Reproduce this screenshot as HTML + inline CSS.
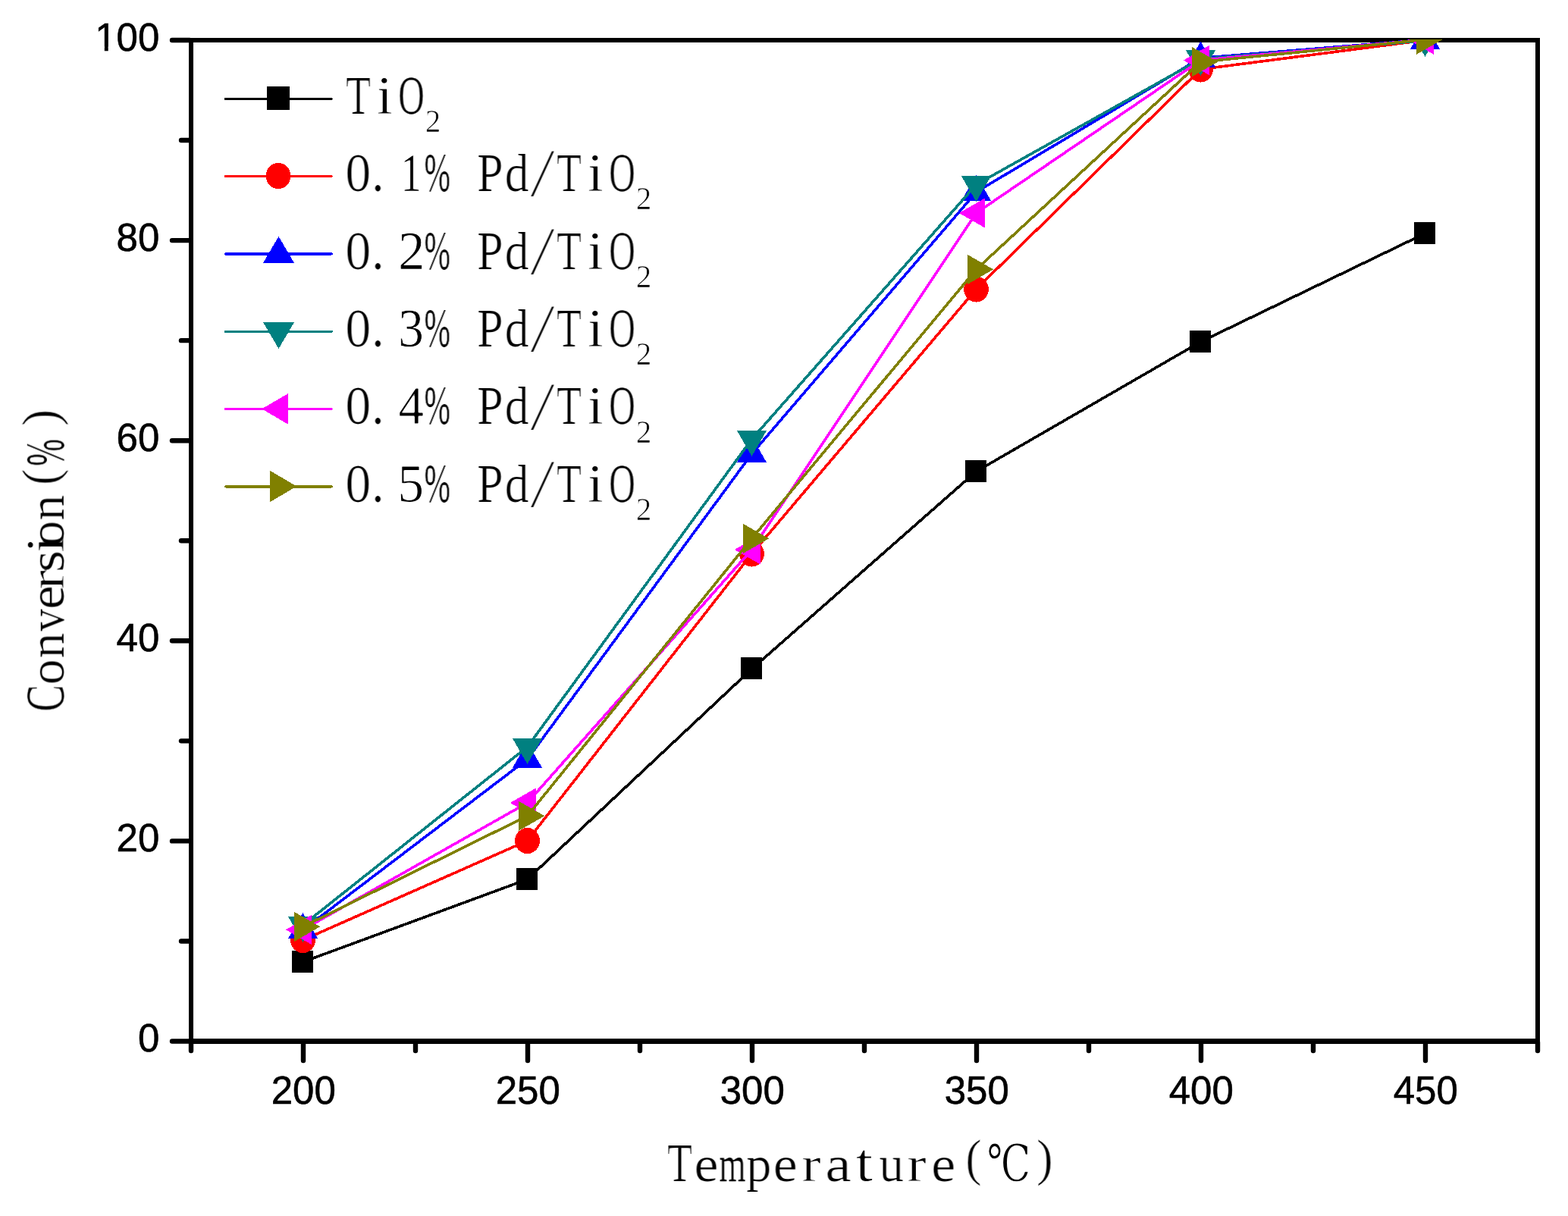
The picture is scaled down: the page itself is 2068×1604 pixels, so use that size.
<!DOCTYPE html>
<html lang="en">
<head>
<meta charset="utf-8">
<title>Conversion vs Temperature</title>
<style>
html,body{margin:0;padding:0;background:#fff;}
body{width:2068px;height:1604px;overflow:hidden;}
svg{display:block;}
.tick{font-family:"Liberation Sans",sans-serif;font-size:51px;fill:#000;stroke:#000;stroke-width:0.6px;}
.ser{font-family:"Liberation Serif","Noto Serif CJK SC",serif;fill:#000;}
</style>
</head>
<body>
<svg width="2068" height="1604" viewBox="0 0 2068 1604">
<rect x="0" y="0" width="2068" height="1604" fill="#fff"/>
<defs>
<filter id="thin" x="-5%" y="-30%" width="110%" height="160%" color-interpolation-filters="sRGB"><feMorphology operator="erode" radius="1 0" result="e"/><feComposite in="SourceGraphic" in2="e" operator="arithmetic" k1="0" k2="0.45" k3="0.55" k4="0"/></filter>
</defs>
<g id="axes" fill="#000" shape-rendering="crispEdges">
<rect x="249" y="50" width="1782" height="6"/>
<rect x="249" y="1370" width="1782" height="7"/>
<rect x="249" y="50" width="6" height="1327"/>
<rect x="2025" y="50" width="6" height="1327"/>
</g>
<g id="ticks" stroke="#000" stroke-width="6.4" stroke-linecap="round" fill="none">
<line x1="227" y1="1373.5" x2="250" y2="1373.5"/>
<line x1="239" y1="1241.45" x2="250" y2="1241.45"/>
<line x1="227" y1="1109.4" x2="250" y2="1109.4"/>
<line x1="239" y1="977.35" x2="250" y2="977.35"/>
<line x1="227" y1="845.3" x2="250" y2="845.3"/>
<line x1="239" y1="713.25" x2="250" y2="713.25"/>
<line x1="227" y1="581.2" x2="250" y2="581.2"/>
<line x1="239" y1="449.15" x2="250" y2="449.15"/>
<line x1="227" y1="317.1" x2="250" y2="317.1"/>
<line x1="239" y1="185.05" x2="250" y2="185.05"/>
<line x1="227" y1="53" x2="250" y2="53"/>
<line x1="252" y1="1375" x2="252" y2="1386"/>
<line x1="400" y1="1375" x2="400" y2="1399"/>
<line x1="548" y1="1375" x2="548" y2="1386"/>
<line x1="696" y1="1375" x2="696" y2="1399"/>
<line x1="844" y1="1375" x2="844" y2="1386"/>
<line x1="992" y1="1375" x2="992" y2="1399"/>
<line x1="1140" y1="1375" x2="1140" y2="1386"/>
<line x1="1288" y1="1375" x2="1288" y2="1399"/>
<line x1="1436" y1="1375" x2="1436" y2="1386"/>
<line x1="1584" y1="1375" x2="1584" y2="1399"/>
<line x1="1732" y1="1375" x2="1732" y2="1386"/>
<line x1="1880" y1="1375" x2="1880" y2="1399"/>
<line x1="2028" y1="1375" x2="2028" y2="1386"/>
</g>
<g id="ylabels" class="tick" text-anchor="end">
<text transform="translate(210.3 1387) scale(1 1.012)">0</text>
<text transform="translate(210.3 1122.9) scale(1 1.012)">20</text>
<text transform="translate(210.3 858.8) scale(1 1.012)">40</text>
<text transform="translate(210.3 594.7) scale(1 1.012)">60</text>
<text transform="translate(210.3 330.6) scale(1 1.012)">80</text>
<text transform="translate(210.3 66.5) scale(1 1.012)">100</text>
<rect x="127.5" y="61.6" width="10.3" height="7.2" fill="#fff" stroke="none"/><rect x="142.7" y="61.6" width="10.3" height="7.2" fill="#fff" stroke="none"/>
</g>
<g id="xlabels" class="tick" text-anchor="middle">
<text transform="translate(400.3 1456) scale(1 1.012)">200</text>
<text transform="translate(696.3 1456) scale(1 1.012)">250</text>
<text transform="translate(992.3 1456) scale(1 1.012)">300</text>
<text transform="translate(1288.3 1456) scale(1 1.012)">350</text>
<text transform="translate(1584.3 1456) scale(1 1.012)">400</text>
<text transform="translate(1880.3 1456) scale(1 1.012)">450</text>
</g>
<text id="xtitle" class="ser" filter="url(#thin)"><tspan x="879.92" y="1557.7" font-size="71" textLength="33.08" lengthAdjust="spacingAndGlyphs">T</tspan><tspan x="915.19" y="1557.7" font-size="66.5" textLength="32.5" lengthAdjust="spacingAndGlyphs">e</tspan><tspan x="948.24" y="1557.7" font-size="66.5" stroke="#000" stroke-width="0.5" textLength="35.47" lengthAdjust="spacingAndGlyphs">m</tspan><tspan x="983.92" y="1557.7" font-size="66.5" textLength="33.61" lengthAdjust="spacingAndGlyphs">p</tspan><tspan x="1019.44" y="1557.7" font-size="66.5" textLength="32.5" lengthAdjust="spacingAndGlyphs">e</tspan><tspan x="1057.39" y="1557.7" font-size="66.5" stroke="#fff" stroke-width="0.9" textLength="25.47" lengthAdjust="spacingAndGlyphs">r</tspan><tspan x="1088.26" y="1557.7" font-size="66.5" textLength="34.61" lengthAdjust="spacingAndGlyphs">a</tspan><tspan x="1128.5" y="1557.7" font-size="71" stroke="#fff" stroke-width="0.9" textLength="22.68" lengthAdjust="spacingAndGlyphs">t</tspan><tspan x="1159.13" y="1557.7" font-size="66.5" textLength="33" lengthAdjust="spacingAndGlyphs">u</tspan><tspan x="1196.39" y="1557.7" font-size="66.5" stroke="#fff" stroke-width="0.9" textLength="25.47" lengthAdjust="spacingAndGlyphs">r</tspan><tspan x="1227.94" y="1557.7" font-size="66.5" textLength="32.5" lengthAdjust="spacingAndGlyphs">e</tspan><tspan x="1273.18" y="1550.1" font-size="68" textLength="21.39" lengthAdjust="spacingAndGlyphs">(</tspan><tspan x="1301.6" y="1558" font-size="67.6" font-family="'DejaVu Serif','Noto Serif CJK SC',serif" stroke="#fff" stroke-width="1.4" textLength="57.91" lengthAdjust="spacingAndGlyphs">℃</tspan><tspan x="1366.88" y="1550.1" font-size="68" textLength="21.91" lengthAdjust="spacingAndGlyphs">)</tspan></text>
<text id="ytitle" class="ser" filter="url(#thin)" transform="translate(83.8 0) rotate(-90)"><tspan x="-938.69" y="0" font-size="71" stroke="#000" stroke-width="0.3" textLength="35.64" lengthAdjust="spacingAndGlyphs">C</tspan><tspan x="-903.61" y="0" font-size="66.5" textLength="34.21" lengthAdjust="spacingAndGlyphs">o</tspan><tspan x="-868.56" y="0" font-size="66.5" textLength="33.98" lengthAdjust="spacingAndGlyphs">n</tspan><tspan x="-833" y="0" font-size="66.5" textLength="30" lengthAdjust="spacingAndGlyphs">v</tspan><tspan x="-804.12" y="0" font-size="66.5" textLength="32.02" lengthAdjust="spacingAndGlyphs">e</tspan><tspan x="-777.46" y="0" font-size="66.5" stroke="#fff" stroke-width="0.9" textLength="25.47" lengthAdjust="spacingAndGlyphs">r</tspan><tspan x="-755.09" y="0" font-size="66.5" textLength="29.31" lengthAdjust="spacingAndGlyphs">s</tspan><tspan x="-728.93" y="0" font-size="71" stroke="#fff" stroke-width="0.9" textLength="21.7" lengthAdjust="spacingAndGlyphs">i</tspan><tspan x="-720.14" y="0" font-size="66.5" textLength="33.27" lengthAdjust="spacingAndGlyphs">o</tspan><tspan x="-686.86" y="0" font-size="66.5" textLength="34.09" lengthAdjust="spacingAndGlyphs">n</tspan><tspan x="-640.12" y="-7.6" font-size="68" textLength="21.39" lengthAdjust="spacingAndGlyphs">(</tspan><tspan x="-614.77" y="0" font-size="71" stroke="#000" stroke-width="1.0" textLength="35.84" lengthAdjust="spacingAndGlyphs">%</tspan><tspan x="-561.96" y="-7.6" font-size="68" textLength="22.3" lengthAdjust="spacingAndGlyphs">)</tspan></text>
<defs><clipPath id="plotclip"><rect x="252" y="52" width="1776" height="1322"/></clipPath></defs>
<g id="series" clip-path="url(#plotclip)" shape-rendering="crispEdges">
<g fill="#000000" stroke="none">
<polyline points="399.5,1268.9 695.5,1159.9 991.5,882.4 1287.5,621.9 1583.5,450.9 1879.5,307.9" fill="none" stroke="#000000" stroke-width="3.6" stroke-linejoin="round"/>
<rect x="385" y="1254" width="28" height="29"/>
<rect x="681" y="1145" width="28" height="29"/>
<rect x="977" y="867" width="28" height="29"/>
<rect x="1273" y="607" width="28" height="29"/>
<rect x="1569" y="436" width="28" height="29"/>
<rect x="1865" y="293" width="28" height="29"/>
</g>
<g fill="#ff0000" stroke="none">
<polyline points="399.5,1240 695.5,1109 991.5,730.5 1287.5,381.4 1583.5,91.4 1879.5,53" fill="none" stroke="#ff0000" stroke-width="3.6" stroke-linejoin="round"/>
<ellipse cx="399.5" cy="1240" rx="16.4" ry="17.1"/>
<ellipse cx="695.5" cy="1109" rx="16.4" ry="17.1"/>
<ellipse cx="991.5" cy="730.5" rx="16.4" ry="17.1"/>
<ellipse cx="1287.5" cy="381.4" rx="16.4" ry="17.1"/>
<ellipse cx="1583.5" cy="91.4" rx="16.4" ry="17.1"/>
<ellipse cx="1879.5" cy="51.3" rx="16.4" ry="17.1"/>
</g>
<g fill="#0000ff" stroke="none">
<polyline points="399.5,1226.7 695.5,1001.5 991.5,598.7 1287.5,253.3 1583.5,76.6 1879.5,52.4" fill="none" stroke="#0000ff" stroke-width="3.6" stroke-linejoin="round"/>
<polygon points="399.5,1204.03 419,1238.03 380,1238.03"/>
<polygon points="695.5,978.83 715,1012.83 676,1012.83"/>
<polygon points="991.5,576.03 1011,610.03 972,610.03"/>
<polygon points="1287.5,230.63 1307,264.63 1268,264.63"/>
<polygon points="1583.5,54.73 1603,88.73 1564,88.73"/>
<polygon points="1879.5,30.73 1899,64.73 1860,64.73"/>
</g>
<g fill="#008080" stroke="none">
<polyline points="399.5,1220.3 695.5,985.3 991.5,579.3 1287.5,243.5 1583.5,77.9 1879.5,53.5" fill="none" stroke="#008080" stroke-width="3.6" stroke-linejoin="round"/>
<polygon points="399.5,1242.97 419,1208.97 380,1208.97"/>
<polygon points="695.5,1007.97 715,973.97 676,973.97"/>
<polygon points="991.5,601.97 1011,567.97 972,567.97"/>
<polygon points="1287.5,266.17 1307,232.17 1268,232.17"/>
<polygon points="1583.5,100.17 1603,66.17 1564,66.17"/>
<polygon points="1879.5,74.97 1899,40.97 1860,40.97"/>
</g>
<g fill="#ff00ff" stroke="none">
<polyline points="399.5,1226.4 695.5,1059 991.5,725 1287.5,281 1583.5,79.5 1879.5,52.3" fill="none" stroke="#ff00ff" stroke-width="3.6" stroke-linejoin="round"/>
<polygon points="376.83,1226.4 410.83,1206.9 410.83,1245.9"/>
<polygon points="672.83,1059 706.83,1039.5 706.83,1078.5"/>
<polygon points="968.83,725 1002.83,705.5 1002.83,744.5"/>
<polygon points="1264.83,281 1298.83,261.5 1298.83,300.5"/>
<polygon points="1560.83,79.5 1594.83,60 1594.83,99"/>
<polygon points="1856.83,52.3 1890.83,32.8 1890.83,71.8"/>
</g>
<g fill="#808000" stroke="none">
<polyline points="399.5,1222.4 695.5,1076.3 991.5,710.4 1287.5,355.4 1583.5,81.6 1879.5,52.3" fill="none" stroke="#808000" stroke-width="3.6" stroke-linejoin="round"/>
<polygon points="422.17,1222.4 388.17,1202.9 388.17,1241.9"/>
<polygon points="718.17,1076.3 684.17,1056.8 684.17,1095.8"/>
<polygon points="1014.17,710.4 980.17,690.9 980.17,729.9"/>
<polygon points="1310.17,355.4 1276.17,335.9 1276.17,374.9"/>
<polygon points="1606.17,81.6 1572.17,62.1 1572.17,101.1"/>
<polygon points="1902.17,52.3 1868.17,32.8 1868.17,71.8"/>
</g>
</g>
<g id="legend" shape-rendering="crispEdges">
<g fill="#000000">
<line x1="297.5" y1="130.4" x2="437.2" y2="130.4" stroke="#000000" stroke-width="3.2" stroke-linecap="round"/>
<rect x="352" y="114" width="30" height="31"/>
<text class="ser" filter="url(#thin)"><tspan x="455.92" y="150" font-size="71" textLength="33.08" lengthAdjust="spacingAndGlyphs">T</tspan><tspan x="496.52" y="150" font-size="71" stroke="#fff" stroke-width="0.9" textLength="21.7" lengthAdjust="spacingAndGlyphs">i</tspan><tspan x="525.01" y="150" font-size="71" stroke="#000" stroke-width="0.3" textLength="35.08" lengthAdjust="spacingAndGlyphs">O</tspan><tspan x="560.61" y="174.3" font-size="41.7" stroke="#fff" stroke-width="0.6" textLength="20.95" lengthAdjust="spacingAndGlyphs">2</tspan></text>
</g>
<g fill="#ff0000">
<line x1="297.5" y1="232.4" x2="437.2" y2="232.4" stroke="#ff0000" stroke-width="3.2" stroke-linecap="round"/>
<ellipse cx="367" cy="232" rx="16.4" ry="17.1"/>
<text class="ser" filter="url(#thin)"><tspan x="455.3" y="252" font-size="71" textLength="34.1" lengthAdjust="spacingAndGlyphs">0</tspan><tspan x="489.62" y="252" font-size="71" textLength="17.75" lengthAdjust="spacingAndGlyphs">.</tspan><tspan x="528.01" y="252" font-size="71" stroke="#fff" stroke-width="0.6" textLength="28.41" lengthAdjust="spacingAndGlyphs">1</tspan><tspan x="559.48" y="252" font-size="71" stroke="#000" stroke-width="1.0" textLength="34.54" lengthAdjust="spacingAndGlyphs">%</tspan><tspan x="602" y="252" font-size="71"> </tspan><tspan x="629.1" y="252" font-size="71" textLength="34.81" lengthAdjust="spacingAndGlyphs">P</tspan><tspan x="665.57" y="252" font-size="69" textLength="32.21" lengthAdjust="spacingAndGlyphs">d</tspan><tspan x="698" y="259.2" font-size="94" stroke="#fff" stroke-width="3.0" textLength="35" lengthAdjust="spacingAndGlyphs">/</tspan><tspan x="733.92" y="252" font-size="71" textLength="33.08" lengthAdjust="spacingAndGlyphs">T</tspan><tspan x="774.52" y="252" font-size="71" stroke="#fff" stroke-width="0.9" textLength="21.7" lengthAdjust="spacingAndGlyphs">i</tspan><tspan x="803.01" y="252" font-size="71" stroke="#000" stroke-width="0.3" textLength="35.08" lengthAdjust="spacingAndGlyphs">O</tspan><tspan x="838.61" y="276.3" font-size="41.7" stroke="#fff" stroke-width="0.6" textLength="20.95" lengthAdjust="spacingAndGlyphs">2</tspan></text>
</g>
<g fill="#0000ff">
<line x1="297.5" y1="335" x2="437.2" y2="335" stroke="#0000ff" stroke-width="3.2" stroke-linecap="round"/>
<polygon points="367.5,311.87 388,346.87 347,346.87"/>
<text class="ser" filter="url(#thin)"><tspan x="455.3" y="354.7" font-size="71" textLength="34.1" lengthAdjust="spacingAndGlyphs">0</tspan><tspan x="489.62" y="354.7" font-size="71" textLength="17.75" lengthAdjust="spacingAndGlyphs">.</tspan><tspan x="524.97" y="354.7" font-size="71" stroke="#fff" stroke-width="0.6" textLength="35.67" lengthAdjust="spacingAndGlyphs">2</tspan><tspan x="559.48" y="354.7" font-size="71" stroke="#000" stroke-width="1.0" textLength="34.54" lengthAdjust="spacingAndGlyphs">%</tspan><tspan x="602" y="354.7" font-size="71"> </tspan><tspan x="629.1" y="354.7" font-size="71" textLength="34.81" lengthAdjust="spacingAndGlyphs">P</tspan><tspan x="665.57" y="354.7" font-size="69" textLength="32.21" lengthAdjust="spacingAndGlyphs">d</tspan><tspan x="698" y="361.9" font-size="94" stroke="#fff" stroke-width="3.0" textLength="35" lengthAdjust="spacingAndGlyphs">/</tspan><tspan x="733.92" y="354.7" font-size="71" textLength="33.08" lengthAdjust="spacingAndGlyphs">T</tspan><tspan x="774.52" y="354.7" font-size="71" stroke="#fff" stroke-width="0.9" textLength="21.7" lengthAdjust="spacingAndGlyphs">i</tspan><tspan x="803.01" y="354.7" font-size="71" stroke="#000" stroke-width="0.3" textLength="35.08" lengthAdjust="spacingAndGlyphs">O</tspan><tspan x="838.61" y="379" font-size="41.7" stroke="#fff" stroke-width="0.6" textLength="20.95" lengthAdjust="spacingAndGlyphs">2</tspan></text>
</g>
<g fill="#008080">
<line x1="297.5" y1="437.3" x2="437.2" y2="437.3" stroke="#008080" stroke-width="3.2" stroke-linecap="round"/>
<polygon points="367.5,460.03 388,425.03 347,425.03"/>
<text class="ser" filter="url(#thin)"><tspan x="455.3" y="456.9" font-size="71" textLength="34.1" lengthAdjust="spacingAndGlyphs">0</tspan><tspan x="489.62" y="456.9" font-size="71" textLength="17.75" lengthAdjust="spacingAndGlyphs">.</tspan><tspan x="524.94" y="456.9" font-size="71" stroke="#fff" stroke-width="0.6" textLength="34.02" lengthAdjust="spacingAndGlyphs">3</tspan><tspan x="559.48" y="456.9" font-size="71" stroke="#000" stroke-width="1.0" textLength="34.54" lengthAdjust="spacingAndGlyphs">%</tspan><tspan x="602" y="456.9" font-size="71"> </tspan><tspan x="629.1" y="456.9" font-size="71" textLength="34.81" lengthAdjust="spacingAndGlyphs">P</tspan><tspan x="665.57" y="456.9" font-size="69" textLength="32.21" lengthAdjust="spacingAndGlyphs">d</tspan><tspan x="698" y="464.1" font-size="94" stroke="#fff" stroke-width="3.0" textLength="35" lengthAdjust="spacingAndGlyphs">/</tspan><tspan x="733.92" y="456.9" font-size="71" textLength="33.08" lengthAdjust="spacingAndGlyphs">T</tspan><tspan x="774.52" y="456.9" font-size="71" stroke="#fff" stroke-width="0.9" textLength="21.7" lengthAdjust="spacingAndGlyphs">i</tspan><tspan x="803.01" y="456.9" font-size="71" stroke="#000" stroke-width="0.3" textLength="35.08" lengthAdjust="spacingAndGlyphs">O</tspan><tspan x="838.61" y="481.2" font-size="41.7" stroke="#fff" stroke-width="0.6" textLength="20.95" lengthAdjust="spacingAndGlyphs">2</tspan></text>
</g>
<g fill="#ff00ff">
<line x1="297.5" y1="539.6" x2="437.2" y2="539.6" stroke="#ff00ff" stroke-width="3.2" stroke-linecap="round"/>
<polygon points="345.27,539.4 380.27,518.9 380.27,559.9"/>
<text class="ser" filter="url(#thin)"><tspan x="455.3" y="559.3" font-size="71" textLength="34.1" lengthAdjust="spacingAndGlyphs">0</tspan><tspan x="489.62" y="559.3" font-size="71" textLength="17.75" lengthAdjust="spacingAndGlyphs">.</tspan><tspan x="525.59" y="559.3" font-size="71" stroke="#fff" stroke-width="1.0" textLength="33.56" lengthAdjust="spacingAndGlyphs">4</tspan><tspan x="559.48" y="559.3" font-size="71" stroke="#000" stroke-width="1.0" textLength="34.54" lengthAdjust="spacingAndGlyphs">%</tspan><tspan x="602" y="559.3" font-size="71"> </tspan><tspan x="629.1" y="559.3" font-size="71" textLength="34.81" lengthAdjust="spacingAndGlyphs">P</tspan><tspan x="665.57" y="559.3" font-size="69" textLength="32.21" lengthAdjust="spacingAndGlyphs">d</tspan><tspan x="698" y="566.5" font-size="94" stroke="#fff" stroke-width="3.0" textLength="35" lengthAdjust="spacingAndGlyphs">/</tspan><tspan x="733.92" y="559.3" font-size="71" textLength="33.08" lengthAdjust="spacingAndGlyphs">T</tspan><tspan x="774.52" y="559.3" font-size="71" stroke="#fff" stroke-width="0.9" textLength="21.7" lengthAdjust="spacingAndGlyphs">i</tspan><tspan x="803.01" y="559.3" font-size="71" stroke="#000" stroke-width="0.3" textLength="35.08" lengthAdjust="spacingAndGlyphs">O</tspan><tspan x="838.61" y="583.6" font-size="41.7" stroke="#fff" stroke-width="0.6" textLength="20.95" lengthAdjust="spacingAndGlyphs">2</tspan></text>
</g>
<g fill="#808000">
<line x1="297.5" y1="641.9" x2="437.2" y2="641.9" stroke="#808000" stroke-width="3.2" stroke-linecap="round"/>
<polygon points="391.33,641.5 356.33,621 356.33,662"/>
<text class="ser" filter="url(#thin)"><tspan x="455.3" y="661.7" font-size="71" textLength="34.1" lengthAdjust="spacingAndGlyphs">0</tspan><tspan x="489.62" y="661.7" font-size="71" textLength="17.75" lengthAdjust="spacingAndGlyphs">.</tspan><tspan x="524.15" y="661.7" font-size="71" stroke="#fff" stroke-width="1.0" textLength="34.88" lengthAdjust="spacingAndGlyphs">5</tspan><tspan x="559.48" y="661.7" font-size="71" stroke="#000" stroke-width="1.0" textLength="34.54" lengthAdjust="spacingAndGlyphs">%</tspan><tspan x="602" y="661.7" font-size="71"> </tspan><tspan x="629.1" y="661.7" font-size="71" textLength="34.81" lengthAdjust="spacingAndGlyphs">P</tspan><tspan x="665.57" y="661.7" font-size="69" textLength="32.21" lengthAdjust="spacingAndGlyphs">d</tspan><tspan x="698" y="668.9" font-size="94" stroke="#fff" stroke-width="3.0" textLength="35" lengthAdjust="spacingAndGlyphs">/</tspan><tspan x="733.92" y="661.7" font-size="71" textLength="33.08" lengthAdjust="spacingAndGlyphs">T</tspan><tspan x="774.52" y="661.7" font-size="71" stroke="#fff" stroke-width="0.9" textLength="21.7" lengthAdjust="spacingAndGlyphs">i</tspan><tspan x="803.01" y="661.7" font-size="71" stroke="#000" stroke-width="0.3" textLength="35.08" lengthAdjust="spacingAndGlyphs">O</tspan><tspan x="838.61" y="686" font-size="41.7" stroke="#fff" stroke-width="0.6" textLength="20.95" lengthAdjust="spacingAndGlyphs">2</tspan></text>
</g>
</g>
</svg>
</body>
</html>
